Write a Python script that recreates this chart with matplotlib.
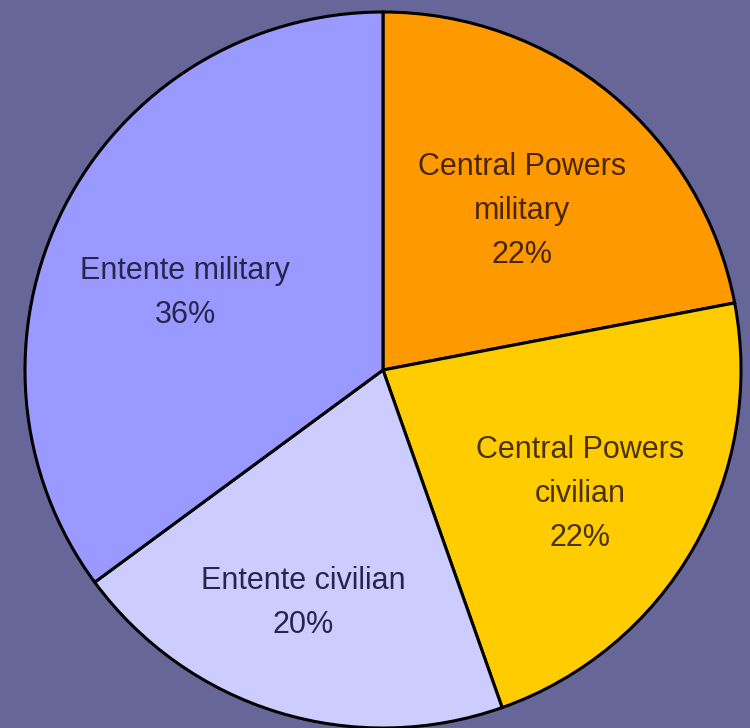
import matplotlib.pyplot as plt
import numpy as np

# Share of deaths (slice sizes, labels as printed)
categories = ['Central Powers\nmilitary', 'Central Powers\ncivilian', 'Entente civilian', 'Entente military']
shares = [22.0, 22.6, 20.3, 35.1]
pct_labels = ['22%', '22%', '20%', '36%']
colors = ['#ff9900', '#ffcc00', '#ccccff', '#9999ff']
text_colors = ['#4a2600', '#4a3300', '#26264d', '#26264d']

# label placement (polar, relative to pie centre)
label_radius = [0.590, 0.650, 0.688, 0.593]
label_angle = [48.8, -32.2, -108.9, 158.7]

fig = plt.figure(figsize=(7.5, 7.28), dpi=100)
fig.patch.set_facecolor('#666699')
ax = fig.add_axes([0, 0, 1, 1])
ax.set_facecolor('#666699')

wedges, _ = ax.pie(shares, colors=colors, startangle=90, counterclock=False,
                   radius=1.0, wedgeprops=dict(edgecolor='black', linewidth=2.2))

for name, pct, tc, r, a in zip(categories, pct_labels, text_colors, label_radius, label_angle):
    t = np.deg2rad(a)
    ax.text(r * np.cos(t), r * np.sin(t), f'{name}\n{pct}',
            ha='center', va='center', fontsize=22, color=tc,
            family='Liberation Sans', linespacing=1.62)

# Map the pie to the pixel layout of the original image
ax.set_aspect('auto')
ax.set_xlim(-383 / 358, (750 - 383) / 358)
ax.set_ylim(-(728 - 370) / 358, 370 / 358)
ax.axis('off')

fig.savefig('out.png', dpi=100, facecolor=fig.get_facecolor())
